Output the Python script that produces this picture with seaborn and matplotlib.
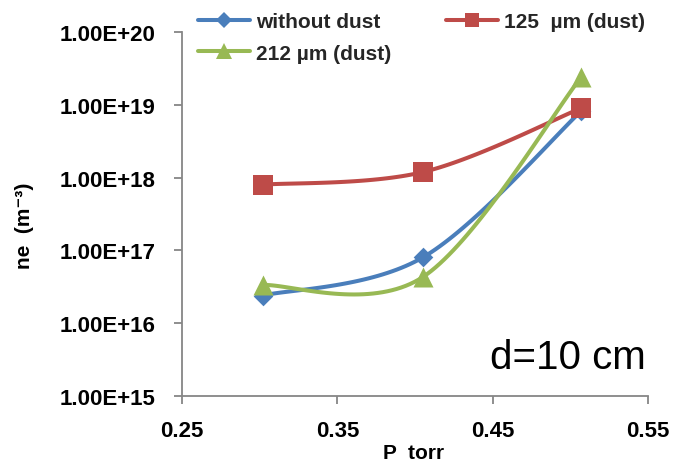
import numpy as np
import pandas as pd
import matplotlib
matplotlib.use("Agg")
import matplotlib.pyplot as plt
import seaborn as sns
from matplotlib.lines import Line2D
from matplotlib.ticker import FixedLocator, FixedFormatter, NullLocator

# ---- data ----
pressure = [0.302, 0.405, 0.507]
ne_without = [2.4e16, 8.0e16, 8.2e18]
ne_125 = [8.0e17, 1.19e18, 9.0e18]
ne_212 = [3.35e16, 4.3e16, 2.4e19]
series_names = ["without dust", "125  \u00b5m (dust)", "212 \u00b5m (dust)"]
x_ticks = [0.25, 0.35, 0.45, 0.55]
x_tick_labels = ["0.25", "0.35", "0.45", "0.55"]
y_ticks = [1e15, 1e16, 1e17, 1e18, 1e19, 1e20]
y_tick_labels = ["1.00E+15", "1.00E+16", "1.00E+17", "1.00E+18", "1.00E+19", "1.00E+20"]

colors = ["#4a7ebb", "#be4b48", "#98b954"]
markers = ["D", "s", "^"]
msizes = [10.0, 14.4, 14.4]
leg_msizes = [8.0, 10.5, 11.5]

sns.set_theme(style="white")
plt.rcParams['font.family'] = ['Liberation Sans', 'DejaVu Sans']

fig = plt.figure(figsize=(6.87, 4.64), dpi=100)
ax = fig.add_axes([182 / 687, 1 - 397 / 464, 466 / 687, 364 / 464])


def smooth(xs, ys, n=40):
    # Excel-like smoothed line (Catmull-Rom Bezier) in x / log10(y) space
    xs = np.asarray(xs, float) * 1553.0 / 72.8
    ly = np.log10(np.asarray(ys, float))
    pts = np.column_stack([xs, ly])
    out = []
    m = len(pts)
    for i in range(m - 1):
        p0 = pts[i - 1] if i > 0 else pts[i]
        p1 = pts[i]
        p2 = pts[i + 1]
        p3 = pts[i + 2] if i + 2 < m else pts[i + 1]
        c1 = p1 + (p2 - p0) / 6.0
        c2 = p2 - (p3 - p1) / 6.0
        t = np.linspace(0, 1, n)[:, None]
        b = ((1 - t) ** 3) * p1 + 3 * ((1 - t) ** 2) * t * c1 + 3 * (1 - t) * t ** 2 * c2 + t ** 3 * p2
        out.append(b if i == 0 else b[1:])
    out = np.vstack(out)
    return out[:, 0] * 72.8 / 1553.0, 10 ** out[:, 1]

all_series = [ne_without, ne_125, ne_212]
for k in range(3):
    sx, sy = smooth(pressure, all_series[k])
    df = pd.DataFrame({"x": sx, "y": sy})
    sns.lineplot(data=df, x="x", y="y", ax=ax, color=colors[k], linewidth=2.9,
                 sort=False, estimator=None, legend=False, zorder=2 + 2 * k)
    dfp = pd.DataFrame({"x": pressure, "y": all_series[k]})
    sns.scatterplot(data=dfp, x="x", y="y", ax=ax, color=colors[k], marker=markers[k],
                    s=msizes[k] ** 2, edgecolor=colors[k], linewidth=0, legend=False,
                    zorder=3 + 2 * k)

ax.set_yscale("log")
ax.set_xlim(0.25, 0.55)
ax.set_ylim(1e15, 1e20)
ax.xaxis.set_major_locator(FixedLocator(x_ticks))
ax.xaxis.set_major_formatter(FixedFormatter(x_tick_labels))
ax.yaxis.set_major_locator(FixedLocator(y_ticks))
ax.yaxis.set_major_formatter(FixedFormatter(y_tick_labels))
ax.yaxis.set_minor_locator(NullLocator())
ax.set_xlabel("")
ax.set_ylabel("")

for side in ["top", "right"]:
    ax.spines[side].set_visible(False)
for side in ["left", "bottom"]:
    ax.spines[side].set_color("#868686")
    ax.spines[side].set_linewidth(1.3)
ax.tick_params(axis="both", which="major", direction="out", length=6, width=1.3,
               color="#868686", labelsize=16, bottom=True, left=True)
ax.tick_params(axis="y", pad=13)
ax.tick_params(axis="x", pad=11)
for lab in ax.get_xticklabels() + ax.get_yticklabels():
    lab.set_fontweight("bold")
    lab.set_color("black")

fig.text(414 / 687, 1 - 454 / 464, "P  torr", fontsize=15, fontweight="bold",
         color="black", ha="center", va="center")
fig.text(25 / 687, 1 - 226 / 464, "ne  (m\u207b\u00b3)", fontsize=15,
         fontweight="bold", color="black", ha="center", va="center", rotation=90)

fig.text(490 / 687, 1 - 369 / 464, "d=10 cm", fontsize=29, color="black",
         ha="left", va="baseline")

handles = [Line2D([0], [0], color=colors[k], lw=2.9, marker=markers[k],
                  markersize=leg_msizes[k], markeredgewidth=0) for k in range(3)]
leg_h = [handles[0], handles[2], handles[1]]
leg_l = [series_names[0], series_names[2], series_names[1]]
leg = fig.legend(leg_h, leg_l, loc="upper left", bbox_to_anchor=(198 / 687, 1 - 13 / 464),
                 ncol=2, frameon=False, handlelength=2.5, handletextpad=0.3,
                 columnspacing=2.6, labelspacing=0.6, borderpad=0, borderaxespad=0,
                 prop={"weight": "bold", "size": 15})

fig.savefig("out.png", dpi=100)
